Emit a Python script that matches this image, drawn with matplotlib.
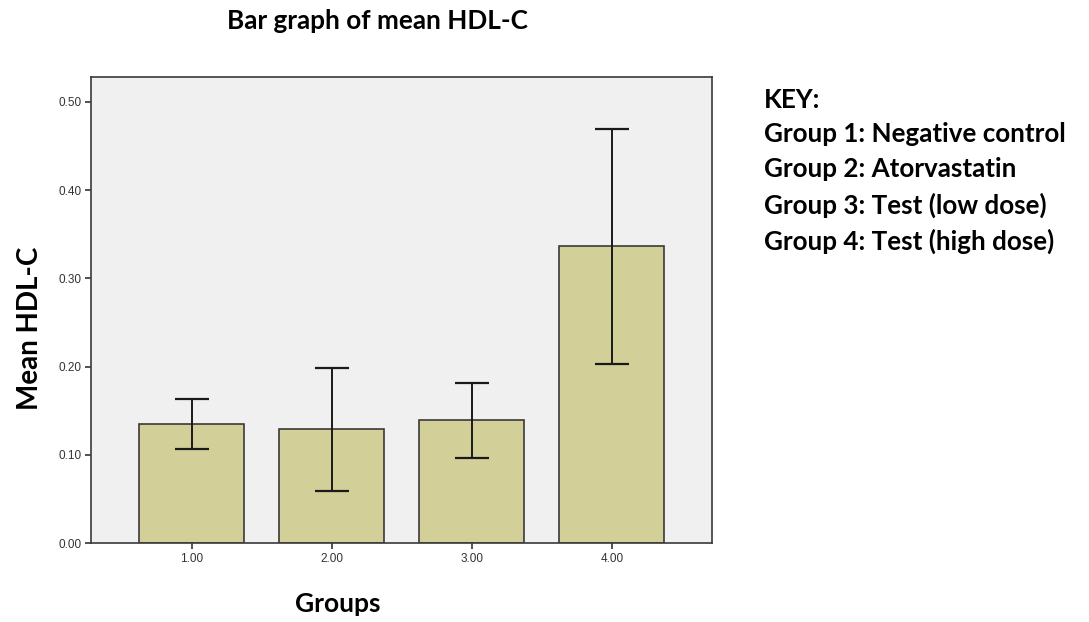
import matplotlib
matplotlib.use('Agg')
import matplotlib.pyplot as plt

# data
groups = [1, 2, 3, 4]
group_labels = ['1.00', '2.00', '3.00', '4.00']
means = [0.135, 0.129, 0.139, 0.337]
err_low = [0.106, 0.059, 0.096, 0.203]
err_high = [0.163, 0.198, 0.181, 0.469]
key_lines = ['KEY:', 'Group 1: Negative control', 'Group 2: Atorvastatin',
             'Group 3: Test (low dose)', 'Group 4: Test (high dose)']
yticks = [0.0, 0.1, 0.2, 0.3, 0.4, 0.5]

bold_font = ['Lato', 'DejaVu Sans']
tick_font = ['Liberation Sans', 'DejaVu Sans']

fig = plt.figure(figsize=(10.89, 6.22), dpi=100)
fig.patch.set_facecolor('white')
ax = fig.add_axes([0.0836, 0.127, 0.5702, 0.749])
ax.set_facecolor('#f0f0f0')

yerr = [[m - lo for m, lo in zip(means, err_low)],
        [hi - m for m, hi in zip(means, err_high)]]
ax.bar(groups, means, width=0.75, color='#d3cf98', edgecolor='#3a3a3a', linewidth=1.2, zorder=2)
ax.errorbar(groups, means, yerr=yerr, fmt='none', ecolor='#1a1a1a', elinewidth=1.4,
            capsize=12.5, capthick=1.6, zorder=3)

ax.set_xlim(0.28, 4.715)
ax.set_ylim(0, 0.528)
ax.set_xticks(groups)
ax.set_xticklabels(group_labels)
ax.set_yticks(yticks)
ax.set_yticklabels(['%.2f' % v for v in yticks])
for lab in ax.get_xticklabels() + ax.get_yticklabels():
    lab.set_family(tick_font)
    lab.set_fontsize(8.5)
    lab.set_color('#333333')
ax.tick_params(axis='both', direction='out', length=4, width=1.2, color='#333333', pad=3)
for side in ['left', 'bottom', 'top', 'right']:
    ax.spines[side].set_color('#3a3a3a')
    ax.spines[side].set_linewidth(1.2)

# titles and labels, placed like the reference
fig.text(377 / 1089, 1 - 21 / 622, 'Bar graph of mean HDL-C', family=bold_font,
         fontweight='bold', fontsize=18.8, ha='center', va='center')
fig.text(30 / 1089, 1 - 328 / 622, 'Mean HDL-C', family=bold_font, fontweight='bold',
         fontsize=20, rotation=90, ha='center', va='center')
fig.text(338 / 1089, 1 - 604 / 622, 'Groups', family=bold_font, fontweight='bold',
         fontsize=19, ha='center', va='center')

key_y = [100, 134, 169, 205, 241]
for txt, yy in zip(key_lines, key_y):
    fig.text(764 / 1089, 1 - yy / 622, txt, family=bold_font, fontweight='bold',
             fontsize=18.7, ha='left', va='center')

fig.savefig('out.png', dpi=100)
